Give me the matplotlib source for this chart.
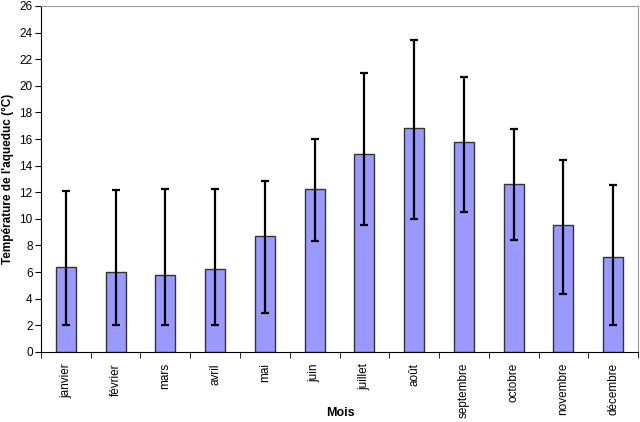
import matplotlib
matplotlib.use("Agg")
import matplotlib.pyplot as plt
import numpy as np

months = ["janvier", "février", "mars", "avril", "mai", "juin", "juillet",
          "août", "septembre", "octobre", "novembre", "décembre"]
mean_temp = [6.4, 6.0, 5.8, 6.2, 8.7, 12.25, 14.85, 16.85, 15.75, 12.6, 9.57, 7.16]
min_temp = [2.0, 2.0, 2.0, 2.0, 2.93, 8.3, 9.57, 10.0, 10.5, 8.4, 4.36, 2.0]
max_temp = [12.1, 12.17, 12.27, 12.25, 12.82, 16.03, 20.96, 23.44, 20.64, 16.78, 14.4, 12.52]
y_ticks = list(range(0, 27, 2))

plt.rcParams['font.family'] = ['Liberation Sans', 'DejaVu Sans']

fig = plt.figure(figsize=(6.4, 4.22), dpi=100)
ax = fig.add_axes([0.064, 0.166, 0.933, 0.820])

x = np.arange(len(months))
mean = np.array(mean_temp)
yerr = [mean - np.array(min_temp), np.array(max_temp) - mean]
ax.bar(x, mean, width=0.4, color="#9999FF", edgecolor="#333333", linewidth=1.0, zorder=2)
ax.errorbar(x, mean, yerr=yerr, fmt="none", ecolor="black", elinewidth=1.6,
            capsize=2.6, capthick=1.6, zorder=3)

ax.set_xlim(-0.5, len(months) - 0.5)
ax.set_ylim(0, 26)
ax.set_yticks(y_ticks)
ax.set_yticklabels([str(t) for t in y_ticks], fontsize=8.5)
ax.set_xticks(x)
ax.set_xticklabels(months, rotation=90, fontsize=8.5)
ax.tick_params(axis='x', which='major', length=0, pad=8)
ax.set_xticks(np.arange(-0.5, len(months) + 0.5, 1), minor=True)
ax.tick_params(axis='x', which='minor', length=4, direction='out', color='black')
ax.tick_params(axis='y', length=4, direction='out', color='black', pad=2)

for s in ['top', 'right']:
    ax.spines[s].set_color('#999999')
for s in ['left', 'bottom']:
    ax.spines[s].set_color('black')

fig.text(340 / 640, 1 - 413 / 422, "Mois", fontsize=9, fontweight='bold',
         ha='center', va='center')
ax.set_ylabel("Température de l'aqueduc (°C)", fontsize=8.5, fontweight='bold', labelpad=4)

fig.savefig("out.png", dpi=100)
